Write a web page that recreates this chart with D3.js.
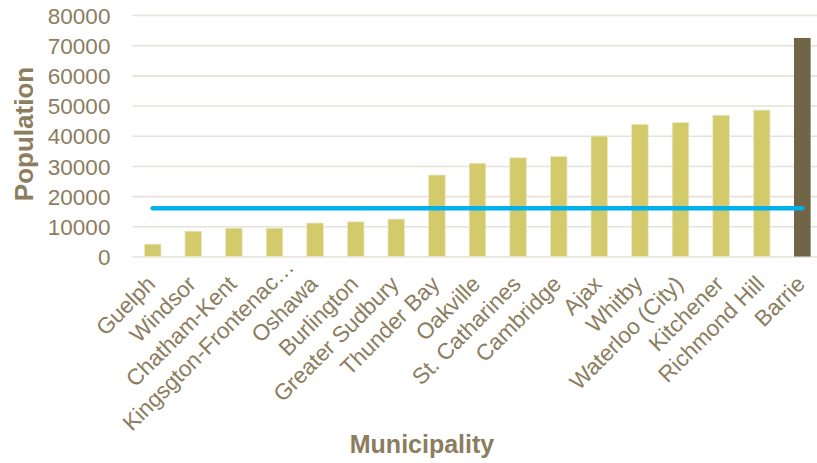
<!DOCTYPE html>
<html><head><meta charset="utf-8">
<script src="https://cdn.jsdelivr.net/npm/d3@7/dist/d3.min.js"></script>
<style>body{margin:0;background:#fff;overflow:hidden} text{font-family:"Liberation Sans",Arial,sans-serif}</style>
</head><body>
<svg id="c" width="817" height="463"></svg>
<script>
const categories = ["Guelph","Windsor","Chatham-Kent","Kingsgton-Frontenac…","Oshawa","Burlington","Greater Sudbury","Thunder Bay","Oakville","St. Catharines","Cambridge","Ajax","Whitby","Waterloo (City)","Kitchener","Richmond Hill","Barrie"];
const population = [4100,8400,9400,9400,11100,11500,12400,27000,30900,32700,33100,39900,43800,44400,46800,48500,72400];
const highlight = ["Barrie"];
const referenceValue = [16000];
const yTicks = [0,10000,20000,30000,40000,50000,60000,70000,80000];

const svg = d3.select("#c");
const mLeft = 132.4, mRight = 132.4 + 17*40.6, mTop = 15, mBottom = 256.5;
const x = d3.scaleBand().domain(categories).range([mLeft, mRight]).paddingInner(0.59).paddingOuter(0.295);
const y = d3.scaleLinear().domain([0,80000]).range([mBottom, mTop]);
const txt = "#8B7D5E";
const ff = "'Liberation Sans', Arial, sans-serif";

const grid = svg.append("g").call(d3.axisLeft(y).tickValues(yTicks).tickSize(-(900)).tickFormat(d=>d))
  .attr("transform", `translate(${mLeft},0)`).attr("font-family", ff);
grid.select(".domain").remove();
grid.selectAll(".tick line").attr("stroke","#E6E2D9").attr("stroke-width",1.6);
grid.selectAll(".tick text").attr("fill",txt).attr("font-family",ff)
  .attr("font-size",22.5).attr("x",-22).attr("dy","0.36em");

svg.append("g").selectAll("rect").data(categories).join("rect")
  .attr("x", d=>x(d)).attr("width", x.bandwidth())
  .attr("y", (d,i)=>y(population[i])).attr("height",(d,i)=>y(0)-y(population[i]))
  .attr("fill", d=>highlight.includes(d)?"#716548":"#D3CA6C")
  .attr("stroke", d=>highlight.includes(d)?"none":"#EEEACB").attr("stroke-width",0.8);

svg.append("line")
  .attr("x1", x(categories[0])+x.bandwidth()/2).attr("x2", x(categories[categories.length-1])+x.bandwidth()/2)
  .attr("y1", y(referenceValue[0])).attr("y2", y(referenceValue[0]))
  .attr("stroke","#00B0EA").attr("stroke-width",4.5).attr("stroke-linecap","round");

const xa = svg.append("g").attr("transform",`translate(0,${mBottom})`)
  .call(d3.axisBottom(x).tickSize(0).tickPadding(0)).attr("font-family", ff);
xa.select(".domain").remove();
xa.selectAll(".tick text").attr("fill",txt).attr("font-family",ff)
  .attr("font-size",22.5).attr("text-anchor","end")
  .attr("transform", d => d.endsWith("…") ? "translate(21,12) rotate(-45)" : "translate(4,29) rotate(-45)")
  .attr("dy","0").attr("y",0).attr("x",0);

svg.append("text").attr("transform","translate(33,134) rotate(-90)").attr("text-anchor","middle")
  .attr("fill",txt).attr("font-family",ff).attr("font-weight","bold")
  .attr("font-size",26).text("Population");
svg.append("text").attr("x",422).attr("y",453).attr("text-anchor","middle")
  .attr("fill",txt).attr("font-family",ff).attr("font-weight","bold")
  .attr("font-size",25).text("Municipality");
</script>
</body></html>
